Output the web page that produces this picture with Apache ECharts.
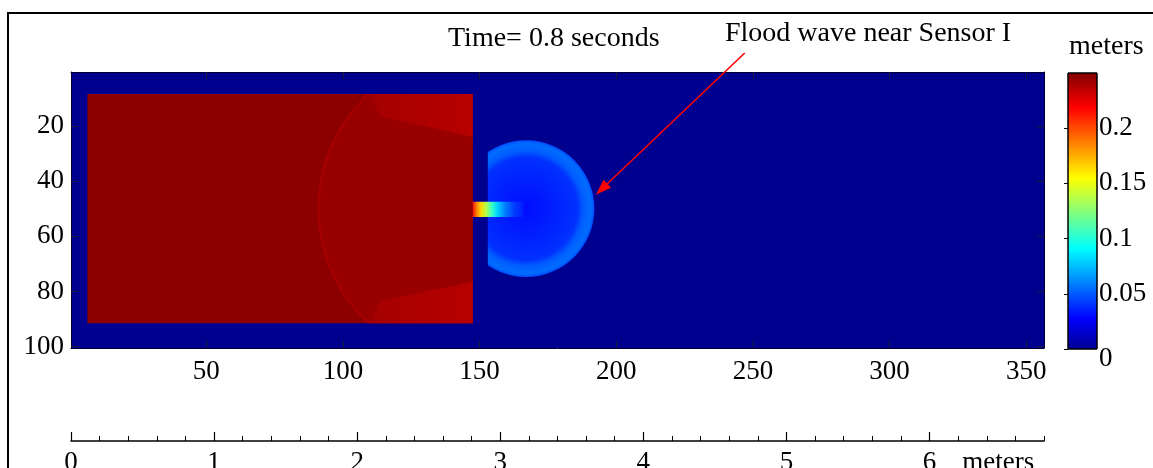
<!DOCTYPE html>
<html lang="en">
<head>
<meta charset="UTF-8">
<title>Flood wave near Sensor I</title>
<script src="https://cdn.jsdelivr.net/npm/echarts@6.0.0/dist/echarts.min.js"></script>
<style>html,body{margin:0;background:#fff}#chart{width:1153px;height:468px}</style>
</head>
<body>
<div id="chart"></div>
<script>
// image grid (columns / rows of the simulation)
var xRange = [0.5, 356.5];
var yRange = [0.5, 100.5];
var xTicks = [50, 100, 150, 200, 250, 300, 350];
var yTicks = [20, 40, 60, 80, 100];

// colour bar
var depthMax = 0.25;
var cbTicks = [0, 0.05, 0.1, 0.15, 0.2];

// scale bar in meters
var meterMax = 6.8;
var meterTicks = [0, 1, 2, 3, 4, 5, 6];
var meterMinor = [0.2, 0.4, 0.6, 0.8, 1.2, 1.4, 1.6, 1.8, 2.2, 2.4, 2.6, 2.8, 3.2, 3.4, 3.6, 3.8,
                  4.2, 4.4, 4.6, 4.8, 5.2, 5.4, 5.6, 5.8, 6.2, 6.4, 6.6, 6.8];
var meterUnitAt = 6.48;

// MATLAB jet(64)
var jetStops = [[0, '#00008f'], [0.111, '#0000ff'], [0.365, '#00ffff'], [0.619, '#ffff00'], [0.873, '#ff0000'], [1, '#800000']];

// rectangles: [x0, x1, y0, y1, depth]
var blocks = [
    [0.5, 356.5, 0.5, 100.5, 0],     // dry bed
    [6.5, 147.5, 8.5, 91.5, 0.247]   // reservoir
];
// rarefaction front round the gate: [cx, cy, r, depth inside, depth on the front]
var rarefaction = [148, 50, 57, 0.244, 0.240];
// lower bands along the reservoir walls
var bands = [
    {pts: [[110, 8.5], [147.5, 8.5], [147.5, 24], [113.5, 16.5]], d: [0.241, 0.236]},
    {pts: [[110, 91.5], [147.5, 91.5], [147.5, 76.5], [113.5, 83.5]], d: [0.241, 0.236]}
];
// flood wave: [cx, cy, r], cut at the downstream wall
var wave = [167, 50, 25];
var waveCut = 153;
var waveProfile = [[0, 0.031], [0.45, 0.036], [0.75, 0.04], [0.84, 0.051], [0.95, 0.055], [1, 0.047]];
// jet through the gate
var jetBand = [47.5, 53];
var jetProfile = [[147.5, 0.215], [149, 0.185], [150.5, 0.165], [152.5, 0.135], [154.5, 0.105],
                  [156.5, 0.08], [159.5, 0.058], [163, 0.042], [166, 0.035]];

// annotation arrow, in grid cells
var arrowTail = [247, -6.4];
var arrowTip = [192.5, 45];

function hex2rgb(h) {
    return [parseInt(h.substr(1, 2), 16), parseInt(h.substr(3, 2), 16), parseInt(h.substr(5, 2), 16)];
}
function jet(v) {
    var t = Math.max(0, Math.min(1, v / depthMax));
    for (var i = 1; i < jetStops.length; i++) {
        if (t <= jetStops[i][0]) {
            var a = jetStops[i - 1], b = jetStops[i];
            var f = (t - a[0]) / (b[0] - a[0]);
            var ca = hex2rgb(a[1]), cb = hex2rgb(b[1]);
            return 'rgb(' + ca.map(function (c, k) { return Math.round(c + (cb[k] - c) * f); }).join(',') + ')';
        }
    }
    return jetStops[jetStops.length - 1][1];
}
function rectOf(api, x0, x1, y0, y1) {
    var p0 = api.coord([x0, y0]), p1 = api.coord([x1, y1]);
    return {x: Math.min(p0[0], p1[0]), y: Math.min(p0[1], p1[1]),
            width: Math.abs(p1[0] - p0[0]), height: Math.abs(p1[1] - p0[1])};
}

var font = {fontFamily: 'Liberation Serif', fontSize: 27, color: '#000'};
var tickStyle = {color: '#1a1a40', width: 1};
var edgeLine = {show: true, lineStyle: {color: '#000030', width: 1}};

var chart = echarts.init(document.getElementById('chart'));

var option = {
    animation: false,
    grid: [
        {left: 71, top: 72, width: 973, height: 276, outerBoundsMode: 'none'},
        {left: 1068, top: 73, width: 29, height: 276, outerBoundsMode: 'none'},
        {left: 71, top: 400, width: 973, height: 41, outerBoundsMode: 'none'}
    ],
    xAxis: [
        {gridIndex: 0, type: 'value', min: xRange[0], max: xRange[1], position: 'bottom', z: 5,
         axisLine: edgeLine, splitLine: {show: false},
         axisTick: {inside: true, length: 7, customValues: xTicks, lineStyle: tickStyle},
         axisLabel: Object.assign({customValues: xTicks, margin: 10}, font)},
        {gridIndex: 0, type: 'value', min: xRange[0], max: xRange[1], position: 'top', z: 5,
         axisLine: edgeLine, splitLine: {show: false},
         axisTick: {inside: true, length: 7, customValues: xTicks, lineStyle: tickStyle},
         axisLabel: {show: false}},
        {gridIndex: 1, type: 'value', min: 0, max: 1, show: false},
        {gridIndex: 2, type: 'value', min: 0, max: meterMax, position: 'bottom',
         axisLine: {lineStyle: {color: '#000', width: 1.5}}, splitLine: {show: false},
         axisTick: {inside: true, length: 9, customValues: meterTicks, lineStyle: {color: '#000', width: 1.2}},
         axisLabel: Object.assign({
             customValues: meterTicks.concat([meterUnitAt]), margin: 8,
             formatter: function (v) { return v === meterUnitAt ? 'meters' : String(v); }
         }, font)},
        {gridIndex: 2, type: 'value', min: 0, max: meterMax, position: 'bottom',
         axisLine: {show: false}, splitLine: {show: false},
         axisTick: {inside: true, length: 5, customValues: meterMinor, lineStyle: {color: '#000', width: 1}},
         axisLabel: {show: false}}
    ],
    yAxis: [
        {gridIndex: 0, type: 'value', inverse: true, min: yRange[0], max: yRange[1], position: 'left', z: 5,
         axisLine: edgeLine, splitLine: {show: false},
         axisTick: {inside: true, length: 7, customValues: yTicks, lineStyle: tickStyle},
         axisLabel: Object.assign({customValues: yTicks, margin: 7}, font)},
        {gridIndex: 0, type: 'value', inverse: true, min: yRange[0], max: yRange[1], position: 'right', z: 5,
         axisLine: edgeLine, splitLine: {show: false},
         axisTick: {inside: true, length: 7, customValues: yTicks, lineStyle: tickStyle},
         axisLabel: {show: false}},
        {gridIndex: 1, type: 'value', min: 0, max: depthMax, position: 'right', z: 5,
         axisLine: {show: false}, splitLine: {show: false},
         axisTick: {inside: true, length: 4, customValues: cbTicks, lineStyle: {color: '#000'}},
         axisLabel: Object.assign({
             customValues: cbTicks, margin: 2,
             formatter: function (v) { return v === 0 ? '{z|0}' : String(v); },
             rich: {z: {padding: [20, 0, 0, 0], fontFamily: 'Liberation Serif', fontSize: 27, color: '#000'}}
         }, font)},
        {gridIndex: 2, type: 'value', min: 0, max: 1, show: false}
    ],
    series: [
        {
            type: 'custom', xAxisIndex: 0, yAxisIndex: 0, silent: true, z: 1,
            data: blocks,
            renderItem: function (params, api) {
                return {type: 'rect',
                        shape: rectOf(api, api.value(0), api.value(1), api.value(2), api.value(3)),
                        style: {fill: jet(api.value(4))}};
            }
        },
        {
            type: 'custom', xAxisIndex: 0, yAxisIndex: 0, silent: true, z: 1,
            data: [rarefaction],
            renderItem: function (params, api) {
                var res = blocks[1];
                var c = api.coord([api.value(0), api.value(1)]);
                var r = api.size([api.value(2), 0])[0];
                return {type: 'circle', shape: {cx: c[0], cy: c[1], r: r},
                        style: {fill: jet(api.value(3)), stroke: jet(api.value(4)), lineWidth: 2},
                        clipPath: {type: 'rect', shape: rectOf(api, res[0], res[1], res[2], res[3])}};
            }
        },
        {
            type: 'custom', xAxisIndex: 0, yAxisIndex: 0, silent: true, z: 1,
            data: bands.map(function (b, i) { return [i]; }),
            renderItem: function (params, api) {
                var b = bands[api.value(0)];
                return {type: 'polygon',
                        shape: {points: b.pts.map(function (p) { return api.coord(p); })},
                        style: {fill: {type: 'linear', x: 0, y: 0, x2: 1, y2: 0,
                                       colorStops: [{offset: 0, color: jet(b.d[0])}, {offset: 1, color: jet(b.d[1])}]}}};
            }
        },
        {
            type: 'custom', xAxisIndex: 0, yAxisIndex: 0, silent: true, z: 1,
            data: [wave],
            renderItem: function (params, api) {
                var c = api.coord([api.value(0), api.value(1)]);
                var r = api.size([api.value(2), 0])[0];
                return {type: 'circle', shape: {cx: c[0], cy: c[1], r: r},
                        style: {fill: {type: 'radial', x: 0.5, y: 0.5, r: 0.5,
                                       colorStops: waveProfile.map(function (s) { return {offset: s[0], color: jet(s[1])}; })}},
                        clipPath: {type: 'rect', shape: rectOf(api, waveCut, xRange[1], yRange[0], yRange[1])}};
            }
        },
        {
            type: 'custom', xAxisIndex: 0, yAxisIndex: 0, silent: true, z: 1,
            data: [[jetProfile[0][0], jetProfile[jetProfile.length - 1][0], jetBand[0], jetBand[1]]],
            renderItem: function (params, api) {
                var x0 = api.value(0), x1 = api.value(1);
                return {type: 'rect', shape: rectOf(api, x0, x1, api.value(2), api.value(3)),
                        style: {fill: {type: 'linear', x: 0, y: 0, x2: 1, y2: 0,
                                       colorStops: jetProfile.map(function (s) {
                                           return {offset: (s[0] - x0) / (x1 - x0), color: jet(s[1])};
                                       })}}};
            }
        },
        {
            type: 'custom', xAxisIndex: 2, yAxisIndex: 2, silent: true, z: 1,
            data: [[0, depthMax]],
            renderItem: function (params, api) {
                return {type: 'rect', shape: rectOf(api, 0, 1, api.value(0), api.value(1)),
                        style: {stroke: '#000', lineWidth: 1,
                                fill: {type: 'linear', x: 0, y: 1, x2: 0, y2: 0,
                                       colorStops: jetStops.map(function (s) { return {offset: s[0], color: s[1]}; })}}};
            }
        }
    ]
};

chart.setOption(option);

var tail = chart.convertToPixel({xAxisIndex: 0, yAxisIndex: 0}, arrowTail);
var tip = chart.convertToPixel({xAxisIndex: 0, yAxisIndex: 0}, arrowTip);
var dx = tip[0] - tail[0], dy = tip[1] - tail[1];
var len = Math.sqrt(dx * dx + dy * dy);
var ux = dx / len, uy = dy / len;
var headL = 16, headW = 5.5;
var bx = tip[0] - ux * headL, by = tip[1] - uy * headL;

var textStyle = {fontFamily: 'Liberation Serif', fontSize: 28, fill: '#000', verticalAlign: 'middle'};
chart.setOption({
    graphic: [
        {type: 'rect', silent: true, shape: {x: 8, y: 13, width: 1300, height: 600},
         style: {fill: 'none', stroke: '#000', lineWidth: 2}},
        {type: 'text', x: 448, y: 39, style: Object.assign({text: 'Time= 0.8 seconds'}, textStyle)},
        {type: 'text', x: 725, y: 34, style: Object.assign({text: 'Flood wave near Sensor I'}, textStyle)},
        {type: 'text', x: 1069, y: 47, style: Object.assign({text: 'meters'}, textStyle)},
        {type: 'line', z: 20, shape: {x1: tail[0], y1: tail[1], x2: bx, y2: by},
         style: {stroke: '#ff0000', lineWidth: 1.6}},
        {type: 'polygon', z: 20,
         shape: {points: [tip, [bx - uy * headW, by + ux * headW], [bx + uy * headW, by - ux * headW]]},
         style: {fill: '#ff0000'}}
    ]
});
</script>
</body>
</html>
